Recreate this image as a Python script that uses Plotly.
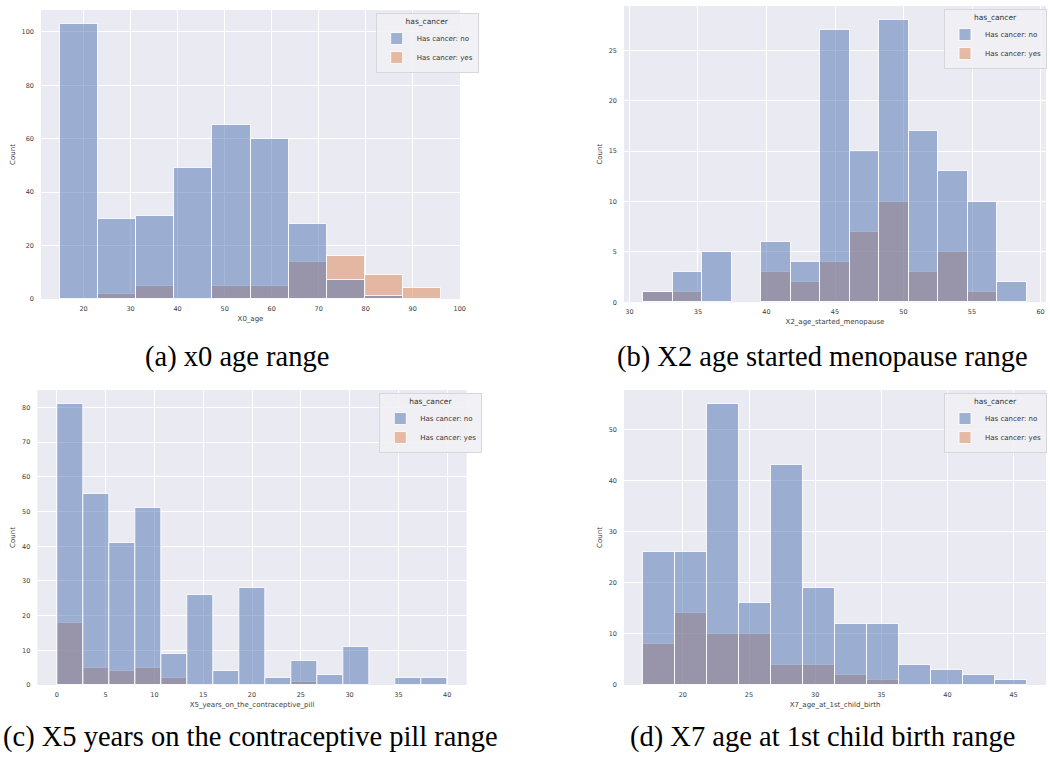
import numpy as np
import plotly.graph_objects as go

# ---------------- data ----------------
# (a) X0_age
a_bin_start, a_bin_end, a_nbins = 15.0, 96.0, 10
a_no = [103, 30, 31, 49, 65, 60, 28, 7, 1, 0]
a_yes = [0, 2, 5, 0, 5, 5, 14, 16, 9, 4]

# (b) X2_age_started_menopause
b_bin_start, b_bin_end, b_nbins = 31.0, 59.0, 13
b_no = [1, 3, 5, 0, 6, 4, 27, 15, 28, 17, 13, 10, 2]
b_yes = [1, 1, 0, 0, 3, 2, 4, 7, 10, 3, 5, 1, 0]

# (c) X5_years_on_the_contraceptive_pill
c_bin_start, c_bin_end, c_nbins = 0.0, 40.0, 15
c_no = [81, 55, 41, 51, 9, 26, 4, 28, 2, 7, 3, 11, 0, 2, 2]
c_yes = [18, 5, 4, 5, 2, 0, 0, 0, 0, 1, 0, 0, 0, 0, 0]

# (d) X7_age_at_1st_child_birth
d_bin_start, d_bin_end, d_nbins = 17.0, 46.0, 12
d_no = [26, 26, 55, 16, 43, 19, 12, 12, 4, 3, 2, 1]
d_yes = [8, 14, 10, 10, 4, 4, 2, 1, 0, 0, 0, 0]

x_titles = ["X0_age", "X2_age_started_menopause",
            "X5_years_on_the_contraceptive_pill", "X7_age_at_1st_child_birth"]
captions = ["(a) x0 age range", "(b) X2 age started menopause range",
            "(c) X5 years on the contraceptive pill range",
            "(d) X7 age at 1st child birth range"]
series_names = ["Has cancer: no", "Has cancer: yes"]
legend_title = "has_cancer"

# ---------------- styling / layout ----------------
W, H = 1050, 765
BLUE = "rgba(76,114,176,0.5)"
ORANGE = "rgba(221,132,82,0.5)"
BG = "#EAEAF2"
TICKC = "#3c3c3c"

# pixel boxes of plot areas: (left, top, right, bottom)
boxes = [(41, 10, 460, 299), (624, 6, 1046, 302.3),
         (37.3, 390, 466.7, 685), (624, 390, 1046, 685)]
y_ranges = [[0, 108.15], [0, 29.4], [0, 85.05], [0, 57.75]]
y_dticks = [20, 5, 10, 10]
x_dticks = [10, 5, 5, 5]
# legend anchor: (x px, y px, xanchor)
legend_pos = [(375.7, 13.3, "left"), (1047, 9.3, "right"),
              (379.3, 393.3, "left"), (1047, 393.3, "right")]
# caption anchor: (x, y, xanchor)
caption_pos = [(237, 357, "center"), (822, 357, "center"),
               (0.5, 737, "left"), (822, 737, "center")]

panels = [
    (a_bin_start, a_bin_end, a_nbins, a_no, a_yes),
    (b_bin_start, b_bin_end, b_nbins, b_no, b_yes),
    (c_bin_start, c_bin_end, c_nbins, c_no, c_yes),
    (d_bin_start, d_bin_end, d_nbins, d_no, d_yes),
]

fig = go.Figure()
layout = dict(
    width=W, height=H, margin=dict(l=0, r=0, t=0, b=0, autoexpand=False),
    paper_bgcolor="white", plot_bgcolor=BG, barmode="overlay",
    bargap=0, font=dict(family="DejaVu Sans", color=TICKC, size=7),
    annotations=[],
)

for i, (s, e, n, no, yes) in enumerate(panels):
    k = "" if i == 0 else str(i + 1)
    edges = np.linspace(s, e, n + 1)
    left = edges[:-1]
    w = (e - s) / n
    margin = 0.05 * (e - s)
    legname = "legend" + k
    yes_vals = [v if v > 0 else None for v in yes]
    no_vals = [v if v > 0 else None for v in no]
    line = dict(color="rgba(255,255,255,0.85)", width=1)
    fig.add_trace(go.Bar(x=left, y=yes_vals, width=w, offset=0, name=series_names[1],
                         marker=dict(color=ORANGE, line=line),
                         xaxis="x" + k, yaxis="y" + k, legend=legname, legendrank=2))
    fig.add_trace(go.Bar(x=left, y=no_vals, width=w, offset=0, name=series_names[0],
                         marker=dict(color=BLUE, line=line),
                         xaxis="x" + k, yaxis="y" + k, legend=legname, legendrank=1))
    l, t, r, b = boxes[i]
    layout["xaxis" + k] = dict(
        domain=[l / W, r / W], anchor="y" + k, range=[s - margin, e + margin],
        dtick=x_dticks[i], tick0=0, showgrid=True, gridcolor="white", gridwidth=1,
        zeroline=False, showline=False, ticks="", ticklabelstandoff=4,
        tickfont=dict(size=6.5, color=TICKC), automargin=False,
        title=dict(text=x_titles[i], font=dict(size=7, color=TICKC), standoff=4),
        fixedrange=True,
    )
    layout["yaxis" + k] = dict(
        domain=[1 - b / H, 1 - t / H], anchor="x" + k, range=y_ranges[i],
        dtick=y_dticks[i], tick0=0, showgrid=True, gridcolor="white", gridwidth=1,
        zeroline=False, showline=False, ticks="", ticklabelstandoff=6,
        tickfont=dict(size=6.5, color=TICKC), automargin=False,
        title=dict(text="Count", font=dict(size=7, color=TICKC), standoff=5),
        fixedrange=True,
    )
    lx, ly, lxa = legend_pos[i]
    layout[legname] = dict(
        x=lx / W, y=1 - ly / H, xanchor=lxa, yanchor="top",
        bgcolor="rgba(240,240,245,0.85)", bordercolor="#d6d6dc", borderwidth=1,
        font=dict(size=7, color="#333333"),
        title=dict(text=legend_title, font=dict(size=7.5, color="#333333"), side="top center"),
        itemwidth=30, tracegroupgap=0,
    )
    cx, cy, xa = caption_pos[i]
    layout["annotations"].append(dict(
        text=captions[i], x=cx / W, y=1 - cy / H, xref="paper", yref="paper",
        xanchor=xa, yanchor="middle", showarrow=False,
        font=dict(family="Liberation Serif", size=28.5, color="black"),
    ))

fig.update_layout(**layout)
fig.write_html("out.html")
